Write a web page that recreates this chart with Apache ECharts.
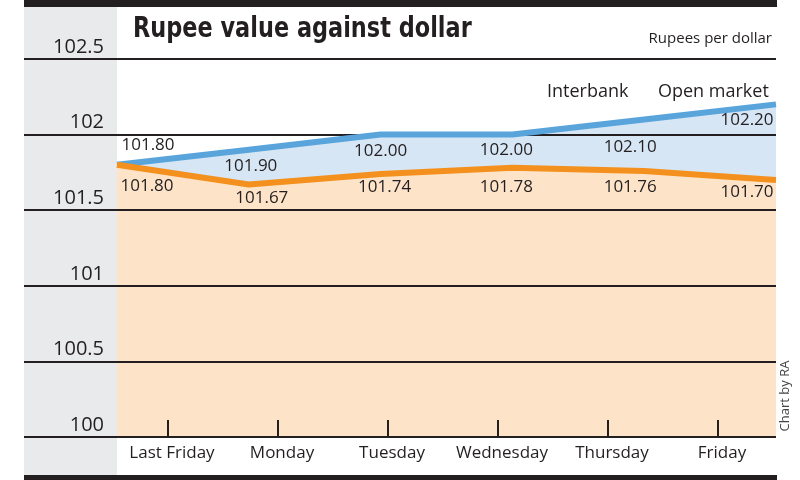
<!DOCTYPE html>
<html>
<head>
<meta charset="utf-8">
<script src="https://cdn.jsdelivr.net/npm/echarts@6/dist/echarts.min.js"></script>
<style>
html,body{margin:0;padding:0;background:#fff;}
#chart{width:800px;height:480px;}
</style>
</head>
<body>
<div id="chart"></div>
<script>
const categories = ['Last Friday', 'Monday', 'Tuesday', 'Wednesday', 'Thursday', 'Friday'];
const openMarket = [101.80, 101.90, 102.00, 102.00, 102.10, 102.20];
const interbank = [101.80, 101.67, 101.74, 101.78, 101.76, 101.70];
const yTicks = [100, 100.5, 101, 101.5, 102, 102.5];
const seriesNames = ['Interbank', 'Open market'];

// label placement (style only)
const openOffsets = [[31, -20], [2, 16], [0, 17], [-6, 16], [-14, 28], [-29, 16]];
const interOffsets = [[30, 21], [13, 14], [4, 13], [-6, 19], [-14, 16], [-29, 12]];

const INK = '#231f20';
const BLUE = '#5aa4dc', BLUE_FILL = '#d7e6f4';
const ORANGE = '#f4901e', ORANGE_FILL = '#fde3c8';
const FONT = '"Open Sans", "Noto Sans", sans-serif';

// plot geometry: 100 at y=437, 102.5 at y=59
const PLOT_BOTTOM = 43, PLOT_TOP = 59;
const PX_PER_UNIT = (480 - PLOT_BOTTOM - PLOT_TOP) / 2.5;
const LABEL_TOP = 480 - PLOT_BOTTOM - PX_PER_UNIT * 2.75;

const chart = echarts.init(document.getElementById('chart'), null, {renderer: 'canvas'});

function labelled(values, offsets) {
  return values.map((v, i) => ({
    value: v,
    label: {offset: offsets[i]}
  }));
}

const option = {
  backgroundColor: '#ffffff',
  animation: false,
  graphic: [
    {type: 'rect', z: -10, shape: {x: 24, y: 6, width: 93, height: 469}, style: {fill: '#e9eaec'}},
    {type: 'rect', z: 10, shape: {x: 24, y: 0, width: 753, height: 7}, style: {fill: INK}},
    {type: 'rect', z: 10, shape: {x: 24, y: 475, width: 753, height: 5}, style: {fill: INK}},
    {type: 'text', z: 10, x: 133, y: 16, scaleX: 0.89, style: {text: 'Rupee value against dollar', fill: INK,
      font: 'bold 28px "Liberation Sans Narrow", "DejaVu Sans Condensed", sans-serif'}},
    {type: 'text', z: 10, right: 28, top: 31, style: {text: 'Rupees per dollar', fill: INK,
      font: '15px ' + FONT}},
    {type: 'text', z: 10, x: 547, y: 83, style: {text: seriesNames[0], fill: INK, font: '18px ' + FONT}},
    {type: 'text', z: 10, x: 658, y: 83, style: {text: seriesNames[1], fill: INK, font: '18px ' + FONT}},
    {type: 'text', z: 10, x: 785, y: 396, rotation: Math.PI / 2,
      style: {text: 'Chart by RA', fill: '#444', font: '13px ' + FONT, align: 'center', verticalAlign: 'middle'}}
  ],
  grid: [
    {left: 24, right: 24, top: PLOT_TOP, bottom: PLOT_BOTTOM},
    {left: 117, right: 24, top: PLOT_TOP, bottom: PLOT_BOTTOM},
    {left: 113, right: 27, top: PLOT_TOP, bottom: PLOT_BOTTOM},
    {left: 24, right: 24, top: LABEL_TOP, bottom: PLOT_BOTTOM}
  ],
  xAxis: [
    {gridIndex: 0, type: 'value', show: false, min: 0, max: 1},
    {gridIndex: 1, type: 'category', data: categories, boundaryGap: false, show: false},
    {gridIndex: 2, type: 'category', data: categories, boundaryGap: true,
      axisLine: {show: false},
      axisTick: {show: true, inside: true, alignWithLabel: true, interval: 0, length: 17, lineStyle: {color: INK, width: 2}},
      axisLabel: {interval: 0, color: INK, fontFamily: FONT, fontSize: 17, margin: 8, padding: [0, 0, 0, 8]},
      splitLine: {show: false}},
    {gridIndex: 3, type: 'value', show: false, min: 0, max: 1}
  ],
  yAxis: [
    {gridIndex: 0, type: 'value', min: 100, max: 102.5, interval: 0.5, z: 1,
      axisLine: {show: false}, axisTick: {show: false}, axisLabel: {show: false},
      splitLine: {show: true, lineStyle: {color: INK, width: 2}}},
    {gridIndex: 1, type: 'value', min: 100, max: 102.5, interval: 0.5, show: false, splitLine: {show: false}},
    {gridIndex: 2, type: 'value', min: 100, max: 102.5, interval: 0.5, show: false, splitLine: {show: false}},
    {gridIndex: 3, type: 'value', min: 100, max: 102.75, interval: 0.25, z: 1,
      axisLine: {show: false}, axisTick: {show: false}, splitLine: {show: false},
      axisLabel: {inside: true, margin: 80, align: 'right', verticalAlign: 'bottom',
        color: INK, fontFamily: FONT, fontSize: 20, lineHeight: 20, padding: [0, 0, 2, 0],
        formatter: v => yTicks.includes(v) ? String(v) : ''}}
  ],
  series: [
    {name: seriesNames[1] + ' area', type: 'line', xAxisIndex: 1, yAxisIndex: 1, z: 0,
      data: openMarket, symbol: 'none', lineStyle: {width: 0, opacity: 0},
      areaStyle: {color: BLUE_FILL, opacity: 1, origin: 'start'}},
    {name: seriesNames[0] + ' area', type: 'line', xAxisIndex: 1, yAxisIndex: 1, z: 0,
      data: interbank, symbol: 'none', lineStyle: {width: 0, opacity: 0},
      areaStyle: {color: ORANGE_FILL, opacity: 1, origin: 'start'}},
    {name: seriesNames[1], type: 'line', xAxisIndex: 1, yAxisIndex: 1, z: 3,
      data: labelled(openMarket, openOffsets), symbol: 'circle', symbolSize: 0.1, showSymbol: true,
      itemStyle: {color: BLUE}, lineStyle: {color: BLUE, width: 6},
      label: {show: true, position: 'inside', color: INK, fontFamily: FONT, fontSize: 17,
        formatter: p => p.value.toFixed(2)}},
    {name: seriesNames[0], type: 'line', xAxisIndex: 1, yAxisIndex: 1, z: 3,
      data: labelled(interbank, interOffsets), symbol: 'circle', symbolSize: 0.1, showSymbol: true,
      itemStyle: {color: ORANGE}, lineStyle: {color: ORANGE, width: 6},
      label: {show: true, position: 'inside', color: INK, fontFamily: FONT, fontSize: 17,
        formatter: p => p.value.toFixed(2)}}
  ]
};
chart.setOption(option);
</script>
</body>
</html>
